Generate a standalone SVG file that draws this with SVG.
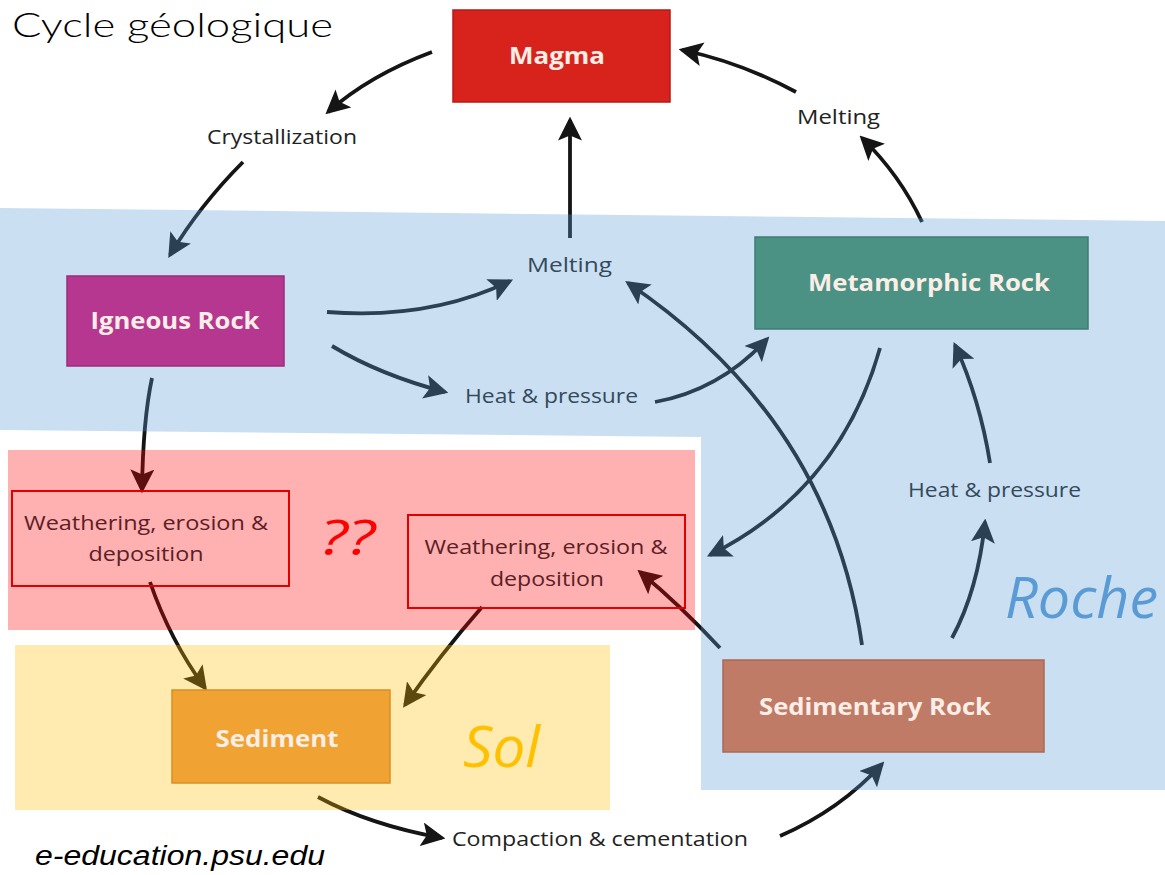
<svg xmlns="http://www.w3.org/2000/svg" width="1165" height="875" viewBox="0 0 1165 875">
<defs>
<marker id="ah" viewBox="0 0 14 14" refX="12" refY="7" markerWidth="24" markerHeight="24" markerUnits="userSpaceOnUse" orient="auto">
<path d="M0,0 L14,7 L0,14 L3,7 Z" fill="#151515"/>
</marker>
<style>
.c{fill:none;stroke:#151515;stroke-width:3.8;marker-end:url(#ah)}
.lbl{font-family:"Open Sans","Noto Sans",sans-serif;font-size:20px;fill:#222}
.nt{font-family:"Open Sans","Noto Sans",sans-serif;font-size:24px;font-weight:700;fill:#fbeee6;text-anchor:middle}
.box{stroke-width:1.5}
.wb{fill:none;stroke:#e00000;stroke-width:2}
.wt{font-family:"Open Sans","Noto Sans",sans-serif;font-size:20px;fill:#5a2026;text-anchor:middle}
.big{font-family:"Open Sans","Noto Sans",sans-serif;font-style:italic}
</style>
</defs>
<rect x="0" y="0" width="1165" height="875" fill="#ffffff"/>

<g id="connectors">
<path class="c" d="M432 52 Q370 75 328 112"/>
<path class="c" d="M243 162 Q200 205 170 255"/>
<path class="c" d="M570 238 L570 120"/>
<path class="c" d="M922 222 Q900 175 862 138"/>
<path class="c" d="M796 92 Q740 62 682 50"/>
<path class="c" d="M327 312 Q430 320 510 281"/>
<path class="c" d="M332 346 Q380 375 445 392"/>
<path class="c" d="M655 402 Q720 390 767 339"/>
<path class="c" d="M152 378 Q143 420 142 490"/>
<path class="c" d="M150 582 Q170 640 205 688"/>
<path class="c" d="M482 607 Q440 655 405 705"/>
<path class="c" d="M318 797 Q370 825 442 838"/>
<path class="c" d="M780 836 Q840 810 882 764"/>
<path class="c" d="M720 648 Q680 605 640 572"/>
<path class="c" d="M862 645 Q830 420 628 283"/>
<path class="c" d="M880 348 Q840 490 710 555"/>
<path class="c" d="M952 638 Q978 590 985 522"/>
<path class="c" d="M990 463 Q980 400 955 345"/>
</g>

<g id="labels">
<text class="lbl" x="207" y="144" textLength="150" lengthAdjust="spacingAndGlyphs">Crystallization</text>
<text class="lbl" x="797" y="124" textLength="83" lengthAdjust="spacingAndGlyphs">Melting</text>
<text class="lbl" x="527" y="272" textLength="85" lengthAdjust="spacingAndGlyphs">Melting</text>
<text class="lbl" x="465" y="403" textLength="173" lengthAdjust="spacingAndGlyphs">Heat &amp; pressure</text>
<text class="lbl" x="908" y="497" textLength="173" lengthAdjust="spacingAndGlyphs">Heat &amp; pressure</text>
<text class="lbl" x="452" y="846" textLength="296" lengthAdjust="spacingAndGlyphs">Compaction &amp; cementation</text>
</g>

<g id="regions">
<polygon id="region-roche" points="0,208 1165,221 1165,790 701,790 701,437 0,430" fill="#5b9bd5" fill-opacity="0.32"/>
<rect id="region-pink" x="8" y="450" width="687" height="180" fill="#ff0000" fill-opacity="0.31"/>
<rect id="region-sol" x="15" y="645" width="595" height="165" fill="#ffc000" fill-opacity="0.31"/>
</g>

<g id="magma">
<rect class="box" x="453" y="10" width="217" height="92" fill="#d8231c" stroke="#b51a14"/>
<text class="nt" x="557" y="64" textLength="96" lengthAdjust="spacingAndGlyphs">Magma</text>
</g>
<g id="igneous">
<rect class="box" x="67" y="276" width="217" height="90" fill="#b5378f" stroke="#9c2d7b"/>
<text class="nt" x="175" y="329" textLength="169" lengthAdjust="spacingAndGlyphs">Igneous Rock</text>
</g>
<g id="metamorphic">
<rect class="box" x="755" y="237" width="333" height="92" fill="#4b9184" stroke="#3f7d71"/>
<text class="nt" x="929" y="291" textLength="242" lengthAdjust="spacingAndGlyphs">Metamorphic Rock</text>
</g>
<g id="sedimentary">
<rect class="box" x="723" y="660" width="321" height="92" fill="#c07b67" stroke="#a86a58"/>
<text class="nt" x="875" y="715" textLength="232" lengthAdjust="spacingAndGlyphs">Sedimentary Rock</text>
</g>
<g id="sediment">
<rect class="box" x="172" y="690" width="218" height="93" fill="#f0a232" stroke="#d98f25"/>
<text class="nt" x="277" y="747" textLength="123" lengthAdjust="spacingAndGlyphs">Sediment</text>
</g>
<g id="weathering1">
<rect class="wb" x="12" y="491" width="277" height="95"/>
<text class="wt" x="146" y="530" textLength="244" lengthAdjust="spacingAndGlyphs">Weathering, erosion &amp;</text>
<text class="wt" x="146" y="561" textLength="115" lengthAdjust="spacingAndGlyphs">deposition</text>
</g>
<g id="weathering2">
<rect class="wb" x="408" y="515" width="277" height="93"/>
<text class="wt" x="546" y="554" textLength="243" lengthAdjust="spacingAndGlyphs">Weathering, erosion &amp;</text>
<text class="wt" x="547" y="586" textLength="114" lengthAdjust="spacingAndGlyphs">deposition</text>
</g>

<g id="annotations">
<text x="12" y="37" font-family="Lato,'Open Sans',sans-serif" font-weight="300" font-size="34" fill="#000" textLength="321" lengthAdjust="spacingAndGlyphs">Cycle géologique</text>
<text class="big" x="320" y="555" font-size="50" fill="#ff0000" textLength="55" lengthAdjust="spacingAndGlyphs">??</text>
<text class="big" x="1005" y="618" font-size="56" fill="#5b9bd5" textLength="153" lengthAdjust="spacingAndGlyphs">Roche</text>
<text class="big" x="463" y="767" font-size="56" fill="#ffc000" textLength="77" lengthAdjust="spacingAndGlyphs">Sol</text>
<text x="35" y="865" font-family="'Liberation Sans',Arial,sans-serif" font-style="italic" font-size="27" fill="#000" textLength="290" lengthAdjust="spacingAndGlyphs">e-education.psu.edu</text>
</g>
</svg>
